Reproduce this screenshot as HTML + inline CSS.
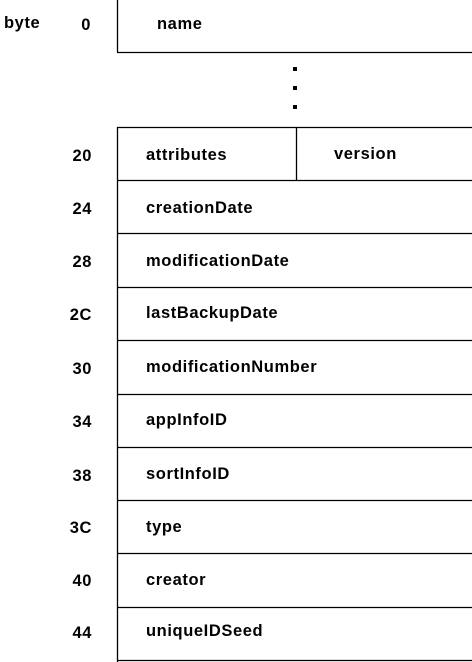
<!DOCTYPE html>
<html><head><style>body{margin:0;background:#fff}svg{display:block}text{font-family:"Liberation Sans",sans-serif;font-weight:bold;font-size:16.5px;letter-spacing:0.6px;fill:#000}</style></head><body>
<svg width="472" height="662" xmlns="http://www.w3.org/2000/svg">
<g stroke="#000" stroke-width="1.3" fill="none">
<line x1="117.5" y1="0" x2="117.5" y2="52"/>
<line x1="117" y1="52.5" x2="472" y2="52.5"/>
<line x1="117.5" y1="127" x2="117.5" y2="662"/>
<line x1="296.5" y1="127" x2="296.5" y2="180"/>
<line x1="117" y1="127.5" x2="472" y2="127.5"/>
<line x1="117" y1="180.5" x2="472" y2="180.5"/>
<line x1="117" y1="233.5" x2="472" y2="233.5"/>
<line x1="117" y1="287.5" x2="472" y2="287.5"/>
<line x1="117" y1="340.5" x2="472" y2="340.5"/>
<line x1="117" y1="394.5" x2="472" y2="394.5"/>
<line x1="117" y1="447.5" x2="472" y2="447.5"/>
<line x1="117" y1="500.5" x2="472" y2="500.5"/>
<line x1="117" y1="553.5" x2="472" y2="553.5"/>
<line x1="117" y1="607.5" x2="472" y2="607.5"/>
<line x1="117" y1="660.5" x2="472" y2="660.5"/>
</g>
<rect x="293" y="67" width="4" height="4"/><rect x="293" y="86" width="4" height="4"/><rect x="293" y="105" width="4" height="4"/>
<text x="4" y="28">byte</text>
<text x="91" y="30" text-anchor="end">0</text>
<text x="157" y="29">name</text>
<g text-anchor="end">
<text x="92" y="161">20</text><text x="92" y="214">24</text><text x="92" y="267">28</text><text x="92" y="320">2C</text><text x="92" y="374">30</text><text x="92" y="427">34</text><text x="92" y="481">38</text><text x="92" y="533">3C</text><text x="92" y="586">40</text><text x="92" y="638">44</text>
</g>
<text x="146" y="160">attributes</text><text x="334" y="159">version</text>
<text x="146" y="213">creationDate</text>
<text x="146" y="266">modificationDate</text>
<text x="146" y="318">lastBackupDate</text>
<text x="146" y="372">modificationNumber</text>
<text x="146" y="425">appInfoID</text>
<text x="146" y="479">sortInfoID</text>
<text x="146" y="532">type</text>
<text x="146" y="585">creator</text>
<text x="146" y="636">uniqueIDSeed</text>
</svg>
</body></html>
